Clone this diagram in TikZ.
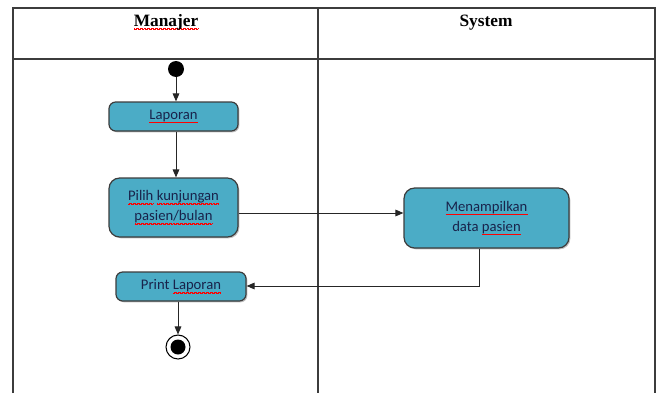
\documentclass[tikz,border=0pt]{standalone}
\usepackage{fontspec}
\setmainfont{Liberation Serif}
\newfontfamily\boxfont{Carlito}
\usetikzlibrary{arrows.meta,shadows}
\definecolor{boxteal}{RGB}{75,172,198}
\definecolor{textnavy}{RGB}{25,35,75}
\definecolor{framegray}{RGB}{60,60,60}
\newcommand{\wavunit}{\hbox{\rule[-0.35pt]{0.5pt}{0.45pt}\rule[0.15pt]{0.5pt}{0.45pt}}}
\newcommand{\wv}[1]{\setbox0\hbox{#1}\rlap{\color{red}\raisebox{-2.2pt}{\hbox to \wd0{\xleaders\wavunit\hfill}}}#1}
\def\px{0.75pt}
\begin{document}
\begin{tikzpicture}[x=0.75pt,y=-0.75pt,
  act/.style={draw=framegray, line width=0.9pt, fill=boxteal, rounded corners=5pt,
    font=\boxfont\fontsize{11}{15}\selectfont, text=textnavy, align=center, inner sep=0pt,
    drop shadow={shadow xshift=1pt, shadow yshift=-1pt, opacity=0.25, fill=black}},
  flow/.style={draw=black!85, line width=0.75pt, -{Triangle[length=6pt,width=5pt]}},
  lane/.style={draw=framegray, line width=0.8pt},
  hdr/.style={font=\bfseries\fontsize{13}{15}\selectfont, anchor=base}]
\useasboundingbox (0,0) rectangle (660,393);
% swimlane frame
\draw[lane] (13,393) -- (13,8) -- (655,8) -- (655,393);
\draw[lane] (13,59) -- (655,59);
\draw[lane] (318,8) -- (318,393);
\node[hdr] (hm) at (166,26) {\wv{Manajer}};
\node[hdr] (hs) at (486,26) {System};
% nodes
\node[circle, fill=black, minimum size=16*\px, inner sep=0pt] (start) at (176,69) {};
\node[act, minimum width=129*\px, minimum height=29*\px] (lap) at (173.5,116.5) {\wv{Laporan}};
\node[act, rounded corners=8pt, minimum width=129*\px, minimum height=59*\px] (pilih) at (173.5,207.5) {\wv{Pilih} \wv{kunjungan}\\\wv{pasien/bulan}};
\node[act, rounded corners=8pt, minimum width=165*\px, minimum height=60*\px] (tampil) at (486.5,218) {\wv{Menampilkan}\\data \wv{pasien}};
\node[act, minimum width=130*\px, minimum height=29*\px] (print) at (181,286.5) {Print \wv{Laporan}};
\node[circle, draw=black, line width=0.8pt, fill=white, minimum size=24*\px, inner sep=0pt] (end) at (178,347) {};
\node[circle, fill=black, minimum size=15*\px, inner sep=0pt] (endin) at (178,347) {};
% connectors
\draw[flow] (start.south) -- (start.south |- lap.north);
\draw[flow] (lap.south -| start.south) -- (pilih.north -| start.south);
\coordinate (mid) at (300,213);
\draw[flow] (pilih.east |- mid) -- (tampil.west |- mid);
\coordinate (bend) at (479,286);
\draw[flow] (tampil.south -| bend) -- (bend) -- (bend -| print.east);
\draw[flow] (print.south -| end.north) -- (end.north);
\end{tikzpicture}
\end{document}
